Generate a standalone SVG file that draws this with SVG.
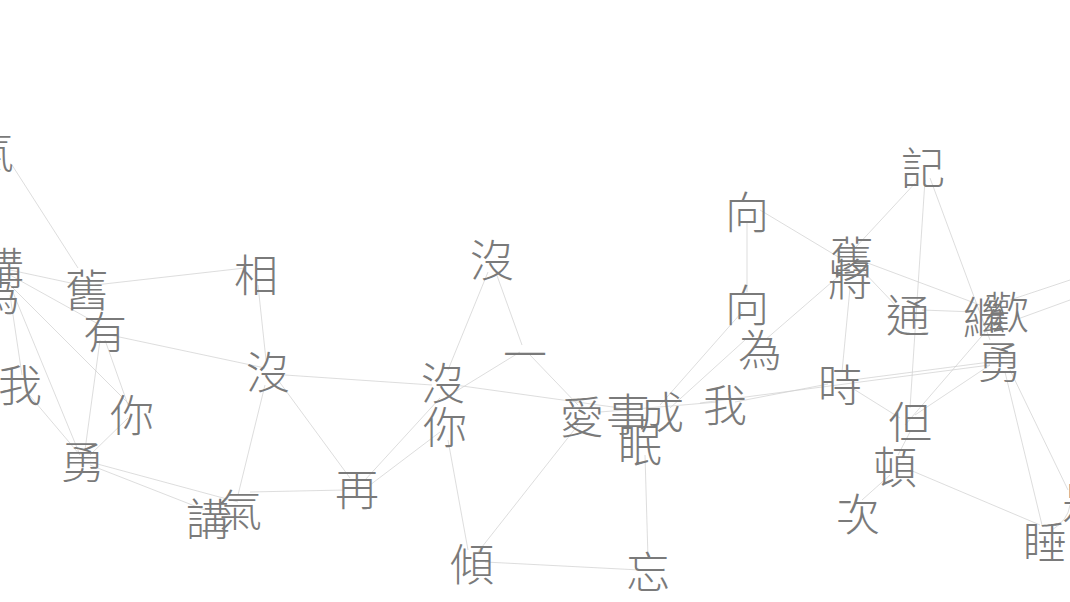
<svg xmlns="http://www.w3.org/2000/svg" width="1070" height="602" viewBox="0 0 1070 602">
<style>
.n text{font-family:"Noto Sans CJK TC","Noto Sans CJK SC",sans-serif;font-size:44px;fill:#7a7a7a;text-anchor:middle;dominant-baseline:central;font-weight:300}
.e line,.e path{stroke:#cfcfcf;stroke-width:0.9;fill:none;opacity:0.8}
</style>
<rect width="1070" height="602" fill="#ffffff"/>
<g id="edges" class="e">
<line x1="12" y1="165" x2="78" y2="268"/>
<line x1="10" y1="270" x2="80" y2="285"/>
<line x1="10" y1="275" x2="100" y2="325"/>
<line x1="12" y1="290" x2="80" y2="455"/>
<line x1="10" y1="295" x2="22" y2="375"/>
<line x1="10" y1="285" x2="130" y2="405"/>
<line x1="95" y1="285" x2="245" y2="268"/>
<line x1="110" y1="335" x2="265" y2="368"/>
<line x1="105" y1="340" x2="128" y2="405"/>
<line x1="100" y1="340" x2="85" y2="450"/>
<line x1="25" y1="390" x2="80" y2="455"/>
<line x1="90" y1="455" x2="128" y2="418"/>
<line x1="90" y1="465" x2="205" y2="510"/>
<line x1="90" y1="462" x2="238" y2="502"/>
<line x1="258" y1="285" x2="266" y2="360"/>
<line x1="265" y1="385" x2="238" y2="495"/>
<line x1="278" y1="380" x2="350" y2="478"/>
<line x1="250" y1="492" x2="345" y2="490"/>
<line x1="365" y1="480" x2="440" y2="398"/>
<line x1="370" y1="485" x2="440" y2="432"/>
<line x1="285" y1="375" x2="432" y2="385"/>
<line x1="488" y1="272" x2="448" y2="370"/>
<line x1="495" y1="270" x2="522" y2="345"/>
<line x1="530" y1="355" x2="578" y2="405"/>
<line x1="455" y1="385" x2="620" y2="408"/>
<line x1="450" y1="395" x2="520" y2="352"/>
<line x1="448" y1="440" x2="468" y2="550"/>
<line x1="478" y1="552" x2="578" y2="425"/>
<line x1="485" y1="562" x2="640" y2="570"/>
<line x1="645" y1="455" x2="648" y2="558"/>
<line x1="600" y1="412" x2="718" y2="402"/>
<line x1="660" y1="405" x2="742" y2="312"/>
<line x1="670" y1="408" x2="745" y2="340"/>
<line x1="747" y1="222" x2="747" y2="292"/>
<line x1="760" y1="210" x2="840" y2="258"/>
<line x1="765" y1="340" x2="840" y2="275"/>
<line x1="735" y1="402" x2="828" y2="384"/>
<line x1="850" y1="288" x2="842" y2="372"/>
<line x1="860" y1="268" x2="900" y2="310"/>
<line x1="865" y1="262" x2="980" y2="305"/>
<line x1="918" y1="180" x2="855" y2="248"/>
<line x1="925" y1="180" x2="910" y2="408"/>
<line x1="930" y1="178" x2="990" y2="340"/>
<line x1="922" y1="310" x2="975" y2="312"/>
<line x1="852" y1="388" x2="900" y2="418"/>
<line x1="852" y1="380" x2="990" y2="362"/>
<line x1="910" y1="432" x2="898" y2="455"/>
<line x1="890" y1="475" x2="862" y2="500"/>
<line x1="915" y1="415" x2="990" y2="365"/>
<line x1="905" y1="425" x2="1000" y2="315"/>
<line x1="1005" y1="372" x2="1042" y2="525"/>
<line x1="1010" y1="370" x2="1068" y2="490"/>
<path d="M1052 530 Q1068 520 1070 505"/>
<line x1="1010" y1="300" x2="1070" y2="280"/>
<line x1="1015" y1="320" x2="1070" y2="300"/>
<line x1="910" y1="470" x2="1040" y2="525"/>
<line x1="700" y1="403" x2="990" y2="365"/>
</g>
<g id="n-qi1" class="n"><text x="-8" y="150">氣</text></g>
<g id="n-jiang1" class="n"><text x="2" y="266">講</text></g>
<g id="n-wei1" class="n"><text x="-2" y="292">為</text></g>
<g id="n-jiu1" class="n"><text x="87" y="288">舊</text></g>
<g id="n-you" class="n"><text x="105" y="330">有</text></g>
<g id="n-xiang" class="n"><text x="256" y="273">相</text></g>
<g id="n-wo1" class="n"><text x="20" y="383">我</text></g>
<g id="n-ni1" class="n"><text x="132" y="413">你</text></g>
<g id="n-yong1" class="n"><text x="83" y="460">勇</text></g>
<g id="n-mei1" class="n"><text x="268" y="370">沒</text></g>
<g id="n-jiang2" class="n"><text x="208" y="517">講</text></g>
<g id="n-qi2" class="n"><text x="240" y="508">氣</text></g>
<g id="n-zai" class="n"><text x="357" y="487">再</text></g>
<g id="n-mei2" class="n"><text x="492" y="258">沒</text></g>
<g id="n-yi" class="n"><text x="525" y="352">一</text></g>
<g id="n-mei3" class="n"><text x="443" y="381">沒</text></g>
<g id="n-ni2" class="n"><text x="445" y="425">你</text></g>
<g id="n-ai" class="n"><text x="582" y="415">愛</text></g>
<g id="n-shi" class="n"><text x="628" y="412">事</text></g>
<g id="n-cheng" class="n"><text x="662" y="410">成</text></g>
<g id="n-mian" class="n"><text x="640" y="443">眠</text></g>
<g id="n-wo2" class="n"><text x="725" y="403">我</text></g>
<g id="n-qing" class="n"><text x="472" y="562">傾</text></g>
<g id="n-wang" class="n"><text x="648" y="570">忘</text></g>
<g id="n-xiang1" class="n"><text x="747" y="210">向</text></g>
<g id="n-xiang2" class="n"><text x="747" y="303">向</text></g>
<g id="n-wei2" class="n"><text x="760" y="348">為</text></g>
<g id="n-jiu2" class="n"><text x="852" y="255">舊</text></g>
<g id="n-jiang3" class="n"><text x="850" y="277">將</text></g>
<g id="n-tong" class="n"><text x="908" y="313">通</text></g>
<g id="n-ji" class="n"><text x="923" y="166">記</text></g>
<g id="n-xu" class="n"><text x="985" y="315">繼</text></g>
<g id="n-huan" class="n"><text x="1007" y="310">歡</text></g>
<g id="n-yong2" class="n"><text x="1000" y="360">勇</text></g>
<g id="n-shi2" class="n"><text x="840" y="383">時</text></g>
<g id="n-dan" class="n"><text x="910" y="420">但</text></g>
<g id="n-dun" class="n"><text x="895" y="465">頓</text></g>
<g id="n-ci" class="n"><text x="858" y="512">次</text></g>
<g id="n-shui" class="n"><text x="1045" y="540">睡</text></g>
<g id="n-shi3" class="n"><text x="1084" y="500">是</text></g>
</svg>
